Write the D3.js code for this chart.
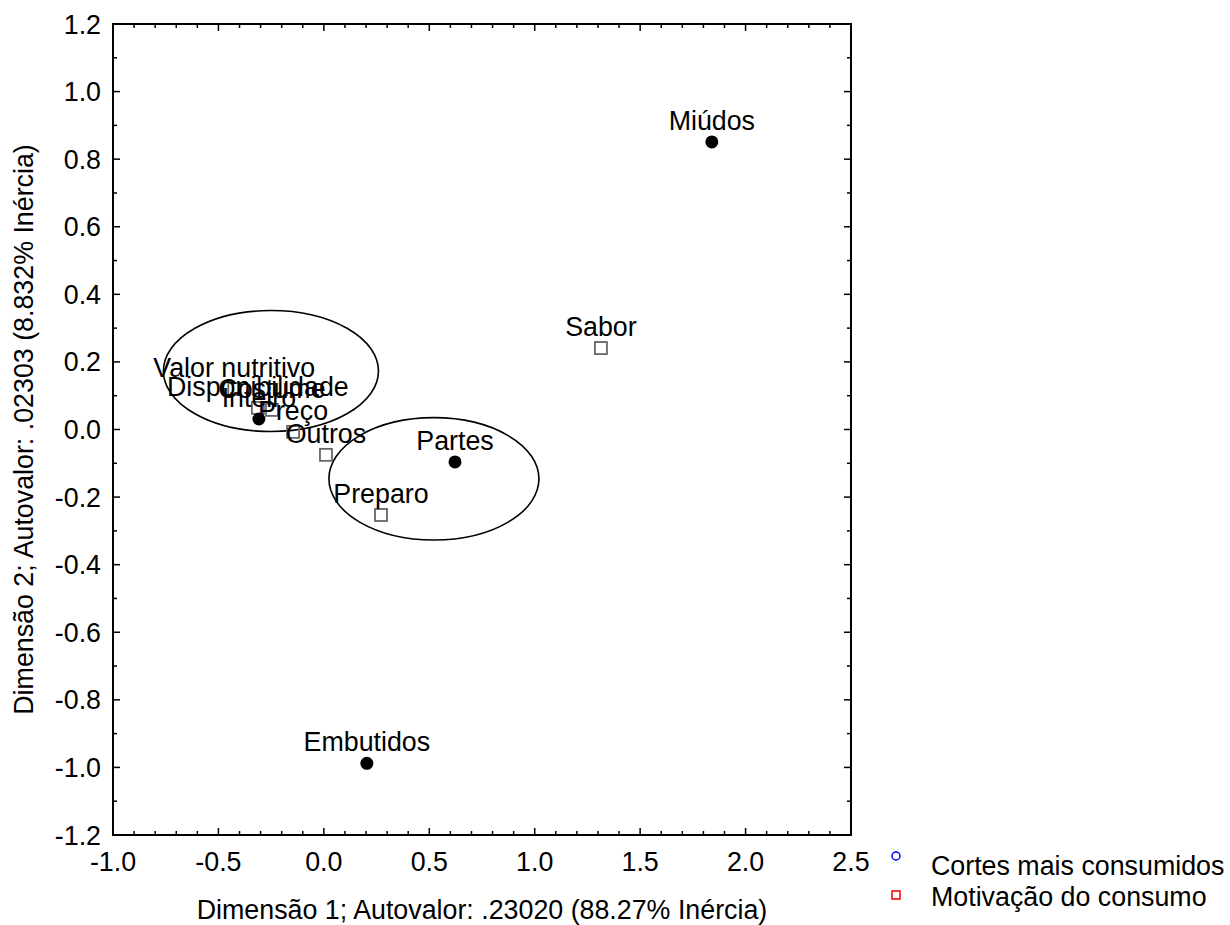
<!DOCTYPE html>
<html><head><meta charset="utf-8">
<script src="https://cdn.jsdelivr.net/npm/d3@7"></script>
<style>
body{margin:0;background:#fff;}
text{font-family:"Liberation Sans",Arial,Helvetica,sans-serif;}
</style></head>
<body><svg id="c" width="1230" height="925"></svg>
<script>
// Data
const cortesLabels = ["Miúdos","Partes","Embutidos","Inteiro"];
const cortesX = [1.840, 0.622, 0.204, -0.308];
const cortesY = [0.851, -0.096, -0.988, 0.031];

const motivLabels = ["Sabor","Preparo","Outros","Preço","Costume","Disponibilidade","Valor nutritivo"];
const motivX = [1.314, 0.271, 0.010, -0.146, -0.246, -0.313, -0.425];
const motivY = [0.241, -0.253, -0.075, -0.007, 0.058, 0.064, 0.120];

const ellipseCX = [-0.251, 0.522];
const ellipseCY = [0.173, -0.146];
const ellipseRX = [0.510, 0.498];
const ellipseRY = [0.179, 0.181];

const xTickLabels = ["-1.0","-0.5","0.0","0.5","1.0","1.5","2.0","2.5"];
const yTickLabels = ["-1.2","-1.0","-0.8","-0.6","-0.4","-0.2","0.0","0.2","0.4","0.6","0.8","1.0","1.2"];
const legendLabels = ["Cortes mais consumidos","Motivação do consumo"];
const xTitle = "Dimensão 1; Autovalor: .23020 (88.27% Inércia)";
const yTitle = "Dimensão 2; Autovalor: .02303 (8.832% Inércia)";

const svg = d3.select("#c");
const L=113,R=851,T=24,B=835;
const x = d3.scaleLinear().domain([-1.0,2.5]).range([L,R]);
const y = d3.scaleLinear().domain([-1.2,1.2]).range([B,T]);
const FS = 26.8;

// minor ticks every 0.1
const xMinor = d3.range(-10,26).map(d=>d/10);
const yMinor = d3.range(-12,13).map(d=>d/10);
const xMajor = xTickLabels.map(Number);
const yMajor = yTickLabels.map(Number);
const isMaj = (v,arr)=>arr.some(a=>Math.abs(a-v)<1e-6);

const tickG = svg.append("g").attr("stroke","#000").attr("stroke-width",1.5);
xMinor.forEach(v=>{
  const len = isMaj(v,xMajor)?7:4;
  tickG.append("line").attr("x1",x(v)).attr("x2",x(v)).attr("y1",B).attr("y2",B-len);
  tickG.append("line").attr("x1",x(v)).attr("x2",x(v)).attr("y1",T).attr("y2",T+len);
});
yMinor.forEach(v=>{
  const len = isMaj(v,yMajor)?7:4;
  tickG.append("line").attr("y1",y(v)).attr("y2",y(v)).attr("x1",L).attr("x2",L+len);
  tickG.append("line").attr("y1",y(v)).attr("y2",y(v)).attr("x1",R).attr("x2",R-len);
});
svg.append("rect").attr("x",L).attr("y",T).attr("width",R-L).attr("height",B-T)
  .attr("fill","none").attr("stroke","#000").attr("stroke-width",2);

// tick labels
svg.append("g").selectAll("text").data(xTickLabels).join("text")
  .attr("x",d=>x(+d)).attr("y",B+36).attr("text-anchor","middle")
  .attr("font-size",FS).text(d=>d);
svg.append("g").selectAll("text").data(yTickLabels).join("text")
  .attr("x",L-12).attr("y",d=>y(+d)+9.5).attr("text-anchor","end")
  .attr("font-size",FS).text(d=>d);

// titles
svg.append("text").attr("x",(L+R)/2).attr("y",919).attr("text-anchor","middle")
  .attr("font-size",FS).text(xTitle);
svg.append("text").attr("transform",`translate(33,${(T+B)/2}) rotate(-90)`)
  .attr("text-anchor","middle").attr("font-size",FS).text(yTitle);

// ellipses
svg.append("g").selectAll("ellipse").data(ellipseCX).join("ellipse")
  .attr("cx",(d,i)=>x(d)).attr("cy",(d,i)=>y(ellipseCY[i]))
  .attr("rx",(d,i)=>x(ellipseRX[i])-x(0)).attr("ry",(d,i)=>y(0)-y(ellipseRY[i]))
  .attr("fill","none").attr("stroke","#000").attr("stroke-width",1.6);

// squares
svg.append("g").selectAll("rect").data(motivX).join("rect")
  .attr("x",d=>x(d)-6).attr("y",(d,i)=>y(motivY[i])-6).attr("width",12).attr("height",12)
  .attr("fill","none").attr("stroke","#666").attr("stroke-width",1.8);
// circles
svg.append("g").selectAll("circle").data(cortesX).join("circle")
  .attr("cx",d=>x(d)).attr("cy",(d,i)=>y(cortesY[i])).attr("r",6.5).attr("fill","#000");

// labels
svg.append("g").selectAll("text").data(motivX).join("text")
  .attr("x",d=>x(d)).attr("y",(d,i)=>y(motivY[i])-12).attr("text-anchor","middle")
  .attr("font-size",FS).text((d,i)=>motivLabels[i]);
svg.append("g").selectAll("text").data(cortesX).join("text")
  .attr("x",d=>x(d)).attr("y",(d,i)=>y(cortesY[i])-12).attr("text-anchor","middle")
  .attr("font-size",FS).text((d,i)=>cortesLabels[i]);

// legend
const lg = svg.append("g");
lg.append("circle").attr("cx",896).attr("cy",856).attr("r",4).attr("fill","none").attr("stroke","#00f").attr("stroke-width",1.5);
lg.append("rect").attr("x",892).attr("y",891).attr("width",8).attr("height",8).attr("fill","none").attr("stroke","#f00").attr("stroke-width",1.5);
lg.selectAll("text").data(legendLabels).join("text")
  .attr("x",931).attr("y",(d,i)=>i===0?875:906).attr("font-size",FS).text(d=>d);
</script></body></html>
